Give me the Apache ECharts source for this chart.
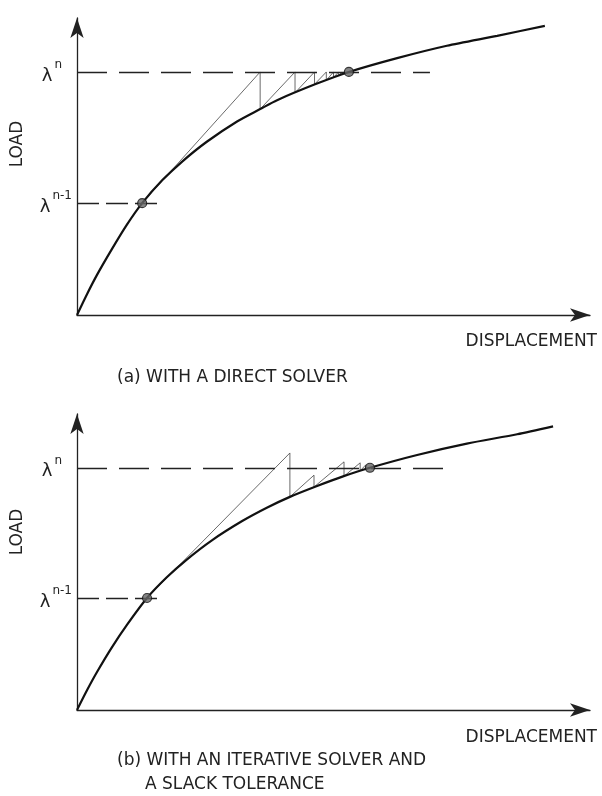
<!DOCTYPE html>
<html>
<head>
<meta charset="utf-8">
<script src="https://cdn.jsdelivr.net/npm/echarts@6/dist/echarts.min.js"></script>
<style>
  html, body { margin: 0; padding: 0; background: #fff; }
  #chart { width: 602px; height: 796px; }
</style>
</head>
<body>
<div id="chart"></div>
<script>
  // (a) load-displacement curve, direct solver
  var curveA = [[0, 0], [0.195, 0.42], [0.39, 0.81], [0.68, 1.33], [0.97, 1.82], [1.27, 2.26],
    [1.66, 2.72], [2.05, 3.10], [2.53, 3.50], [3.12, 3.91], [3.57, 4.16], [3.90, 4.34],
    [4.64, 4.66], [5.30, 4.91], [6.24, 5.19], [7.21, 5.44], [8.19, 5.64], [9.12, 5.84]];
  // (a) iterations, same stiffness every time
  var stepsA = [[1.27, 2.26], [3.57, 4.91], [3.57, 4.16], [4.25, 4.91], [4.25, 4.49],
    [4.63, 4.91], [4.63, 4.66], [4.86, 4.91], [4.86, 4.74], [5.00, 4.91], [5.00, 4.80],
    [5.10, 4.91], [5.10, 4.83], [5.16, 4.91], [5.16, 4.86], [5.20, 4.91]];

  // (b) curve, iterative solver with slack tolerance
  var curveB = [[0, 0], [0.195, 0.40], [0.39, 0.77], [0.68, 1.27], [0.97, 1.72], [1.365, 2.27],
    [1.75, 2.69], [2.14, 3.05], [2.63, 3.44], [3.22, 3.83], [3.70, 4.10], [4.15, 4.32],
    [4.68, 4.54], [5.20, 4.74], [5.71, 4.91], [6.63, 5.17], [7.60, 5.40], [8.58, 5.59], [9.28, 5.75]];
  var stepsB = [[1.365, 2.27], [4.15, 5.21], [4.15, 4.32], [4.62, 4.76], [4.62, 4.52],
    [5.205, 5.03], [5.205, 4.74], [5.52, 5.01], [5.52, 4.85], [5.63, 4.97], [5.63, 4.89], [5.71, 4.91]];

  // load levels: [lambda^n, lambda^(n-1)]
  var levelsA = [4.91, 2.26];
  var levelsB = [4.91, 2.27];
  // converged points
  var pointsA = [[1.27, 2.26], [5.30, 4.91]];
  var pointsB = [[1.365, 2.27], [5.71, 4.91]];
  // where the dashed level lines stop
  var dashEndA = [6.88, 1.60];
  var dashEndB = [7.25, 1.58];
  var levelLabels = ['{l|λ}{s|n}', '{l|λ}{s|n-1}'];

  var FONT = 'DejaVu Sans';
  var INK = '#222';

  var myChart = echarts.init(document.getElementById('chart'));

  function axisLine() {
    return {
      show: true,
      symbol: ['none', 'arrow'],
      symbolSize: [10, 20],
      lineStyle: {color: INK, width: 1.3}
    };
  }

  function makeX(i) {
    return {gridIndex: i, type: 'value', min: 0, max: 10, axisLine: axisLine(),
      axisTick: {show: false}, axisLabel: {show: false}, splitLine: {show: false}};
  }

  function makeY(i) {
    return {gridIndex: i, type: 'value', min: 0, max: 6, axisLine: axisLine(),
      axisTick: {show: false}, axisLabel: {show: false}, splitLine: {show: false}};
  }

  function levelLines(levels, ends) {
    var rich = {
      l: {fontSize: 18, fontFamily: FONT, color: INK, verticalAlign: 'bottom', lineHeight: 26},
      s: {fontSize: 12, fontFamily: FONT, color: INK, verticalAlign: 'top', lineHeight: 12, padding: [0, 0, 0, 2]}
    };
    return {
      silent: true,
      symbol: ['none', 'none'],
      animation: false,
      data: [
        [{coord: [0, levels[0]], lineStyle: {type: [30, 12], color: INK, width: 1.3},
          label: {show: true, position: 'start', distance: 15, formatter: levelLabels[0], rich: rich}},
          {coord: [ends[0], levels[0]]}],
        [{coord: [0, levels[1]], lineStyle: {type: [22, 7], color: INK, width: 1.3},
          label: {show: true, position: 'start', distance: 5, formatter: levelLabels[1], rich: rich}},
          {coord: [ends[1], levels[1]]}]
      ]
    };
  }

  function panel(i, curve, steps, points, levels, ends) {
    return [
      {
        type: 'line', xAxisIndex: i, yAxisIndex: i, data: curve,
        smooth: 0.25, symbol: 'none', z: 3,
        lineStyle: {color: '#111', width: 2.2}
      },
      {
        type: 'line', xAxisIndex: i, yAxisIndex: i, data: steps,
        symbol: 'none', z: 2,
        lineStyle: {color: '#444', width: 0.8},
        markLine: levelLines(levels, ends)
      },
      {
        type: 'scatter', xAxisIndex: i, yAxisIndex: i, data: points,
        symbolSize: 9, z: 5,
        itemStyle: {color: '#666', borderColor: '#111', borderWidth: 1.2}
      }
    ];
  }

  function label(x, y, text, align, rot) {
    return {
      type: 'text', x: x, y: y, rotation: rot || 0, silent: true,
      style: {text: text, fontSize: 17, fontFamily: FONT, fill: INK,
        align: align, textAlign: align, verticalAlign: 'middle', textVerticalAlign: 'middle'}
    };
  }

  var option = {
    animation: false,
    backgroundColor: '#fff',
    grid: [
      {left: 77, top: 18, width: 513, height: 297},
      {left: 77, top: 414, width: 513, height: 296}
    ],
    xAxis: [makeX(0), makeX(1)],
    yAxis: [makeY(0), makeY(1)],
    graphic: [
      label(18, 144, 'LOAD', 'center', Math.PI / 2),
      label(597, 342, 'DISPLACEMENT', 'right'),
      label(117, 378, '(a) WITH A DIRECT SOLVER', 'left'),
      label(18, 532, 'LOAD', 'center', Math.PI / 2),
      label(597, 738, 'DISPLACEMENT', 'right'),
      label(117, 761, '(b) WITH AN ITERATIVE SOLVER AND', 'left'),
      label(145, 785, 'A SLACK TOLERANCE', 'left')
    ],
    series: panel(0, curveA, stepsA, pointsA, levelsA, dashEndA)
      .concat(panel(1, curveB, stepsB, pointsB, levelsB, dashEndB))
  };

  myChart.setOption(option);
</script>
</body>
</html>
